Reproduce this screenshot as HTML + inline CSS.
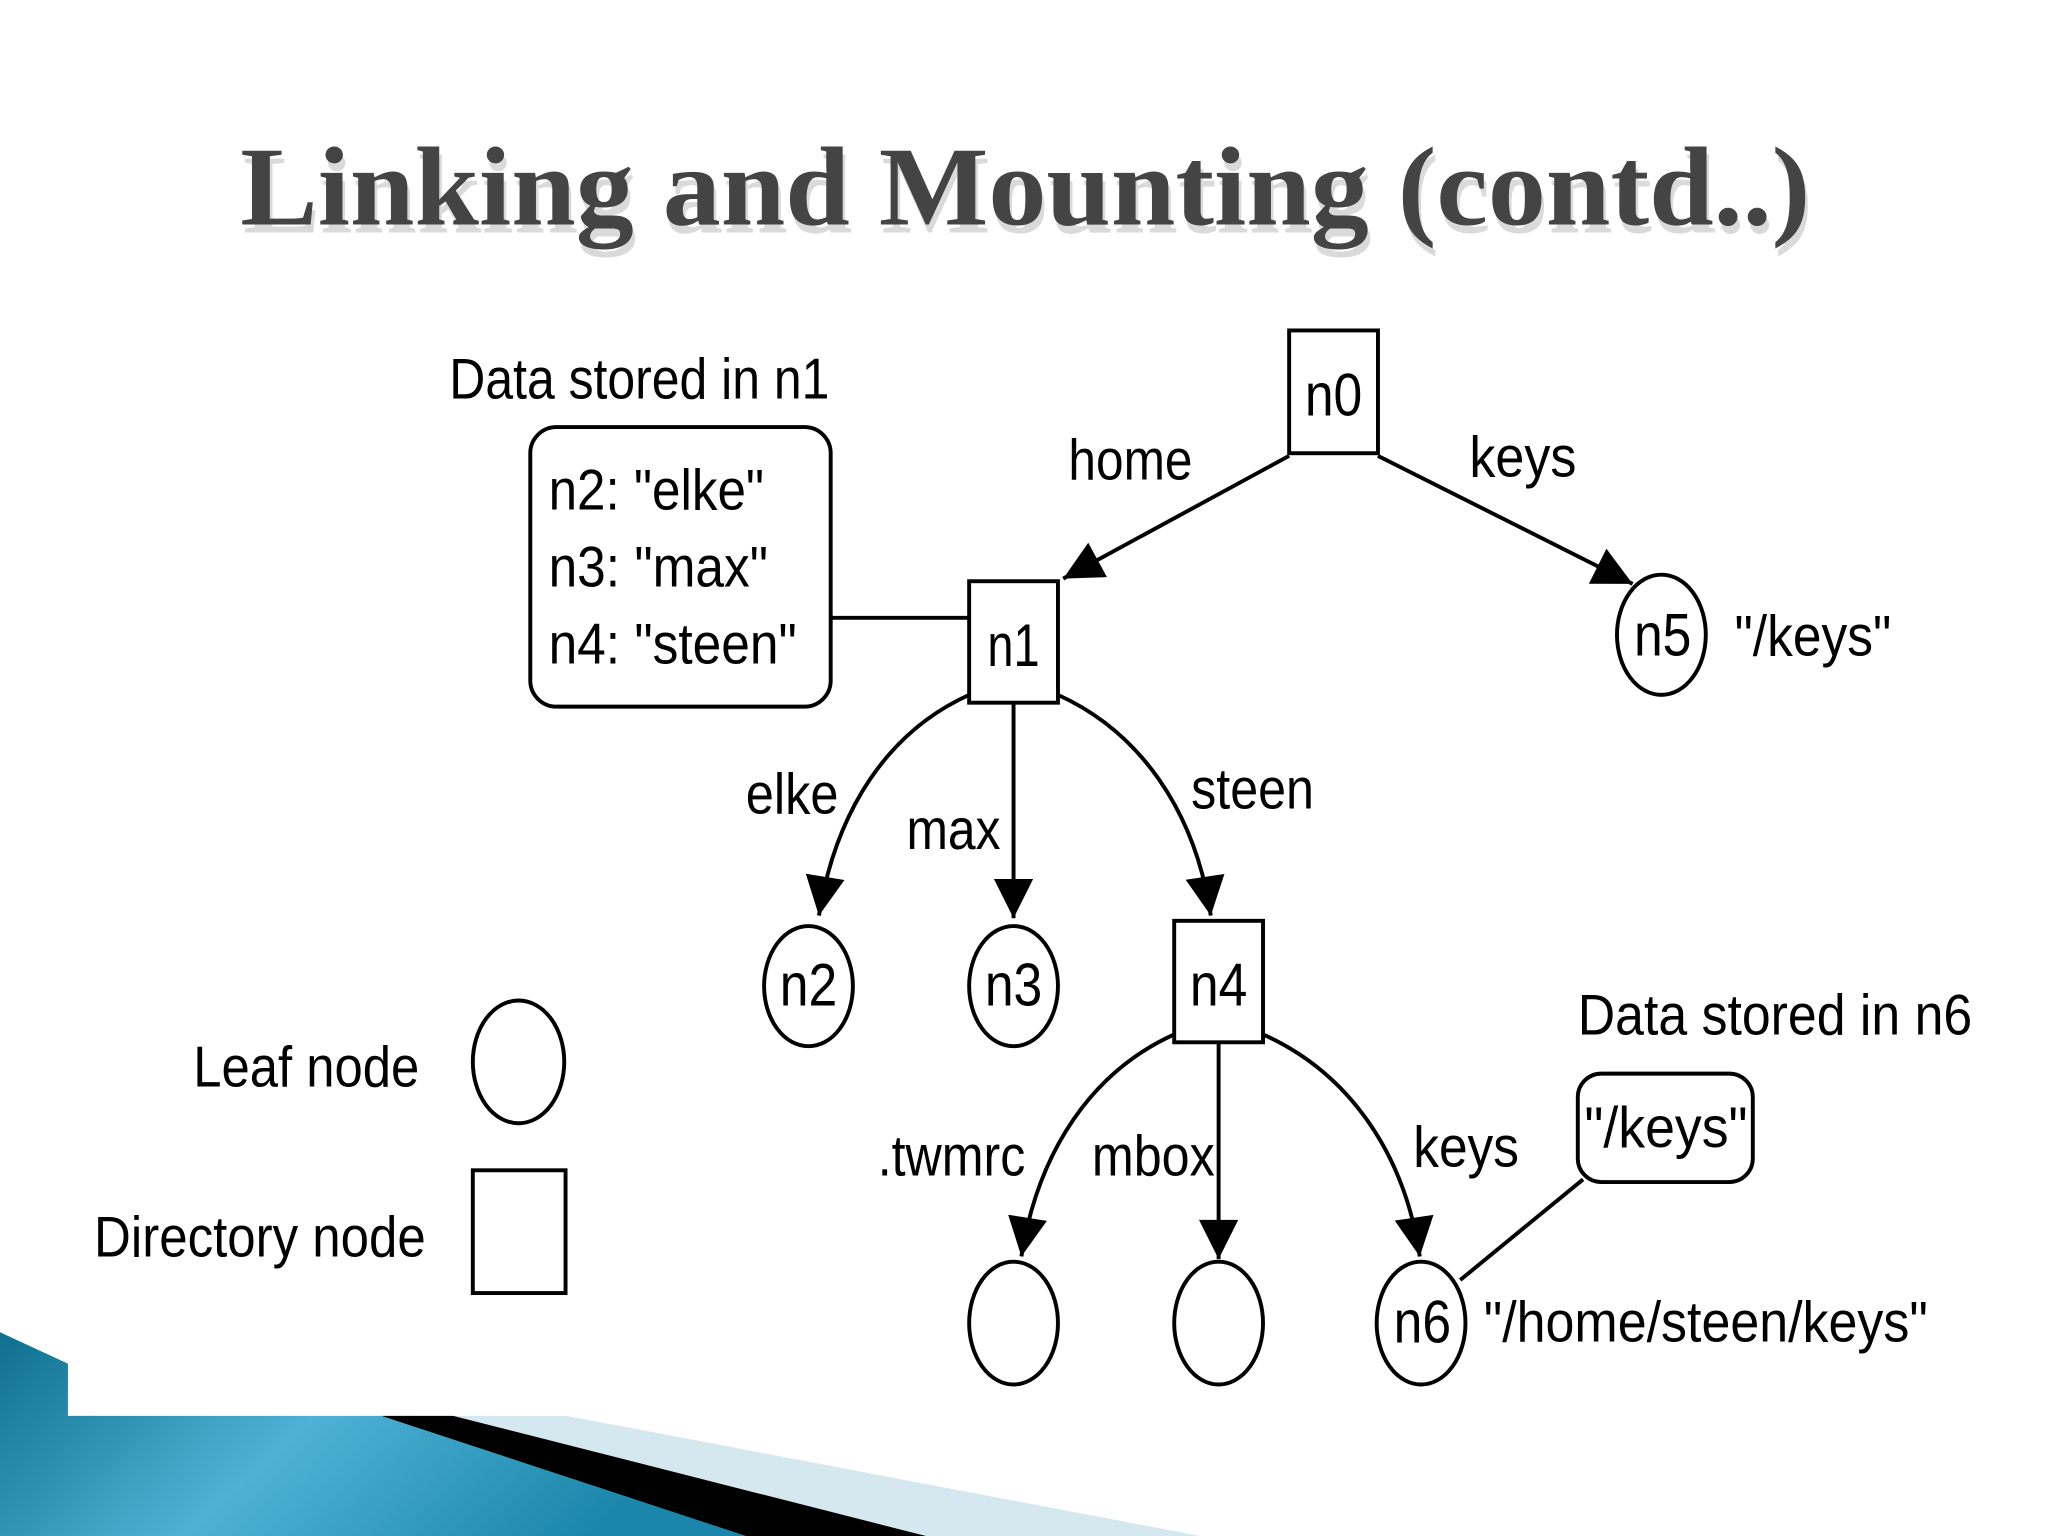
<!DOCTYPE html>
<html><head><meta charset="utf-8"><style>html,body{margin:0;padding:0;background:#fff}svg{display:block}</style></head>
<body>
<svg width="2048" height="1536" viewBox="0 0 1568 1176" xmlns="http://www.w3.org/2000/svg">
<defs>
<linearGradient id="bl" x1="0" y1="0" x2="1" y2="0.3">
<stop offset="0" stop-color="#0e6f8e"/><stop offset="0.5" stop-color="#4fb2d4"/><stop offset="1" stop-color="#1a86ab"/>
</linearGradient>
<marker id="a" viewBox="0 0 10 10" refX="10" refY="5" markerWidth="34" markerHeight="30" markerUnits="userSpaceOnUse" orient="auto">
<path d="M0,0 L10,5 L0,10 z" fill="#000"/></marker>
</defs>
<rect width="1568" height="1176" fill="#fff"/>
<polygon points="0,1020 52,1044 52,1084 292,1084 571,1176 0,1176" fill="url(#bl)"/>
<polygon points="347,1084 434,1084 919,1176 709,1176" fill="#d5e8f0"/>
<polygon points="292,1084 347,1084 709,1176 571,1176" fill="#000"/>
<text x="785" y="172" text-anchor="middle" font-family="Liberation Serif, serif" font-weight="bold" font-size="86" fill="#dadada" textLength="1202" lengthAdjust="spacingAndGlyphs" transform="translate(2,6)">Linking and Mounting (contd..)</text>
<text x="785" y="172" text-anchor="middle" font-family="Liberation Serif, serif" font-weight="bold" font-size="86" fill="#444" textLength="1202" lengthAdjust="spacingAndGlyphs">Linking and Mounting (contd..)</text>
<g fill="none" stroke="#000" stroke-width="3">
<rect x="987" y="253" width="68" height="94"/>
<rect x="742" y="445" width="68" height="93"/>
<rect x="899" y="705" width="68" height="93"/>
<rect x="362" y="896" width="71" height="94"/>
<ellipse cx="619" cy="755" rx="34" ry="46"/>
<ellipse cx="776" cy="755" rx="34" ry="46"/>
<ellipse cx="1272" cy="486" rx="34" ry="46"/>
<ellipse cx="397" cy="813" rx="35" ry="47"/>
<ellipse cx="776" cy="1013" rx="34" ry="47"/>
<ellipse cx="933" cy="1013" rx="34" ry="47"/>
<ellipse cx="1088" cy="1013" rx="34" ry="47"/>
<rect x="406" y="327" width="230" height="214" rx="20"/>
<rect x="1208" y="822" width="134" height="83" rx="18"/>
<line x1="636" y1="473" x2="742" y2="473"/>
<line x1="1212" y1="903" x2="1118" y2="980"/>
<line x1="987" y1="349" x2="814" y2="443" marker-end="url(#a)"/>
<line x1="1055" y1="349" x2="1250" y2="447" marker-end="url(#a)"/>
<path d="M742,532 C680,560 640,620 627,701" marker-end="url(#a)"/>
<line x1="776" y1="538" x2="776" y2="703" marker-end="url(#a)"/>
<path d="M810,532 C872,560 915,620 927,701" marker-end="url(#a)"/>
<path d="M899,792 C837,820 795,880 782,962" marker-end="url(#a)"/>
<line x1="933" y1="798" x2="933" y2="964" marker-end="url(#a)"/>
<path d="M967,792 C1030,820 1075,880 1087,962" marker-end="url(#a)"/>
</g>
<g font-family="Liberation Sans, sans-serif" font-size="44" fill="#000">
<text x="1021" y="318" text-anchor="middle" font-size="46" textLength="44" lengthAdjust="spacingAndGlyphs">n0</text>
<text x="776" y="510" text-anchor="middle" font-size="46" textLength="40" lengthAdjust="spacingAndGlyphs">n1</text>
<text x="933" y="770" text-anchor="middle" font-size="46" textLength="44" lengthAdjust="spacingAndGlyphs">n4</text>
<text x="619" y="770" text-anchor="middle" font-size="46" textLength="44" lengthAdjust="spacingAndGlyphs">n2</text>
<text x="776" y="770" text-anchor="middle" font-size="46" textLength="44" lengthAdjust="spacingAndGlyphs">n3</text>
<text x="1273" y="502" text-anchor="middle" font-size="46" textLength="44" lengthAdjust="spacingAndGlyphs">n5</text>
<text x="1089" y="1028" text-anchor="middle" font-size="46" textLength="44" lengthAdjust="spacingAndGlyphs">n6</text>
<text x="818" y="367" textLength="95" lengthAdjust="spacingAndGlyphs">home</text>
<text x="1125" y="365" textLength="82" lengthAdjust="spacingAndGlyphs">keys</text>
<text x="571" y="623" textLength="71" lengthAdjust="spacingAndGlyphs">elke</text>
<text x="694" y="650" textLength="72" lengthAdjust="spacingAndGlyphs">max</text>
<text x="912" y="619" textLength="94" lengthAdjust="spacingAndGlyphs">steen</text>
<text x="672" y="900" textLength="113" lengthAdjust="spacingAndGlyphs">.twmrc</text>
<text x="836" y="900" textLength="94" lengthAdjust="spacingAndGlyphs">mbox</text>
<text x="1082" y="893" textLength="81" lengthAdjust="spacingAndGlyphs">keys</text>
<text x="1328" y="502" textLength="120" lengthAdjust="spacingAndGlyphs">"/keys"</text>
<text x="1136" y="1027" textLength="340" lengthAdjust="spacingAndGlyphs">"/home/steen/keys"</text>
<text x="1213" y="878" textLength="125" lengthAdjust="spacingAndGlyphs">"/keys"</text>
<text x="344" y="305" textLength="291" lengthAdjust="spacingAndGlyphs">Data stored in n1</text>
<text x="1208" y="792" textLength="302" lengthAdjust="spacingAndGlyphs">Data stored in n6</text>
<text x="420" y="390" textLength="165" lengthAdjust="spacingAndGlyphs">n2: "elke"</text>
<text x="420" y="449" textLength="168" lengthAdjust="spacingAndGlyphs">n3: "max"</text>
<text x="420" y="508" textLength="190" lengthAdjust="spacingAndGlyphs">n4: "steen"</text>
<text x="148" y="832" textLength="173" lengthAdjust="spacingAndGlyphs">Leaf node</text>
<text x="72" y="962" textLength="254" lengthAdjust="spacingAndGlyphs">Directory node</text>
</g>
</svg>
</body></html>
